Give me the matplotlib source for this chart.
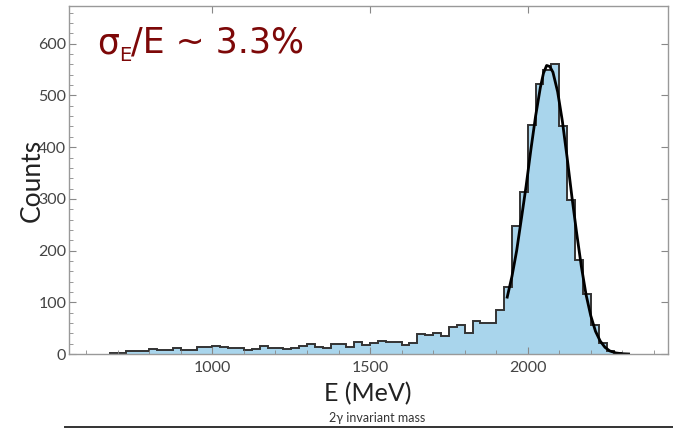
import numpy as np
import matplotlib
matplotlib.use('Agg')
import matplotlib.pyplot as plt
from matplotlib.lines import Line2D

# histogram: 25 MeV bins starting at 675 MeV
bin_width = 25
first_edge = 675
counts = [1, 2,
          6, 6, 6, 9, 7, 8, 11, 7, 7, 13, 13,
          15, 13, 11, 11, 8, 10, 16, 12, 11, 9, 11, 15,
          20, 14, 11, 19, 20, 13, 23, 18, 21, 25, 24, 24,
          18, 21, 39, 36, 41, 34, 52, 57, 40, 64, 59, 59,
          86, 130, 247, 313, 443, 522, 550, 560, 441, 297, 181, 117,
          56, 22, 6, 2]

# fitted curve
fit_e = [1935, 1950, 1965, 1980, 1995, 2010, 2025, 2040, 2050, 2060, 2070,
         2080, 2095, 2110, 2125, 2140, 2155, 2170, 2185, 2200, 2215, 2230,
         2245, 2260, 2280, 2300, 2320]
fit_counts = [110, 150, 200, 262, 325, 395, 460, 515, 543, 558, 556,
              545, 507, 450, 380, 305, 235, 170, 115, 74, 44, 25,
              13, 6, 2, 0.5, 0]

x_ticks = [1000, 1500, 2000]
y_ticks = [0, 100, 200, 300, 400, 500, 600]

plt.rcParams['font.family'] = ['Lato', 'DejaVu Sans']

W, H = 673, 428
fig = plt.figure(figsize=(W / 100, H / 100), dpi=100)
ax = fig.add_axes([69 / W, 1 - 354 / H, 599 / W, 348 / H])

edges = first_edge + bin_width * np.arange(len(counts) + 1)
ax.stairs(counts, edges, fill=True, color='#a9d5ec', linewidth=0)
ax.stairs(counts, edges, color='#333333', linewidth=1.4)
ax.plot(fit_e, fit_counts, color='black', linewidth=2)

ax.set_xlim(545, 2445)
ax.set_ylim(0, 673)
ax.set_xticks(x_ticks)
ax.set_yticks(y_ticks)
ax.set_xticks(np.arange(600, 2500, 100), minor=True)
ax.set_yticks(np.arange(0, 680, 20), minor=True)

for s in ax.spines.values():
    s.set_color('#999999')
    s.set_linewidth(1.0)

ax.tick_params(which='both', direction='in', colors='#888888',
               labelcolor='#444444', labelsize=11.5)
ax.tick_params(which='major', length=5, top=True, right=True)
ax.tick_params(which='minor', length=3, top=False, right=False)
ax.tick_params(axis='y', pad=2)
ax.tick_params(axis='x', pad=5)

fig.text(32 / W, 1 - 180 / H, 'Counts', rotation=90, ha='center',
         va='center', fontsize=19, color='#222222')
fig.text(368 / W, 1 - 394 / H, 'E (MeV)', ha='center', va='center',
         fontsize=18, color='#222222')
fig.text(377 / W, 1 - 418 / H, '2γ invariant mass', ha='center',
         va='center', fontsize=9, color='#333333')

# title: sigma, subscript E, rest of the text, all placed on baselines
red = '#7d0808'
tfont = ['DejaVu Sans']
fig.canvas.draw()
r = fig.canvas.get_renderer()
t1 = fig.text(97 / W, 1 - 53 / H, 'σ', fontsize=25, color=red,
              family=tfont, va='baseline')
bb1 = t1.get_window_extent(r)
t2 = fig.text(bb1.x1 / W, 1 - 61 / H, 'E', fontsize=14, color=red,
              family=tfont, va='baseline')
bb2 = t2.get_window_extent(r)
fig.text(bb2.x1 / W, 1 - 53 / H, '/E ~ 3.3%', fontsize=25, color=red,
         family=tfont, va='baseline')

fig.add_artist(Line2D([65 / W, 1], [1.2 / H, 1.2 / H],
                      color='#333333', linewidth=1.4))

fig.savefig('out.png', dpi=100)
